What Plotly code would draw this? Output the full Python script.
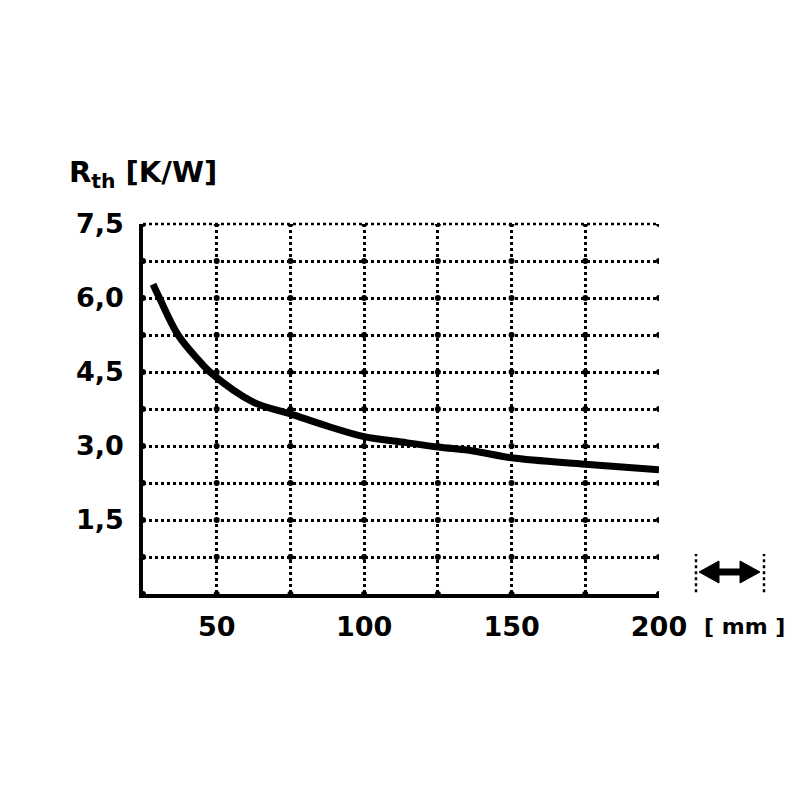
import numpy as np
import plotly.graph_objects as go

# data
length_mm = [28.4, 30.6, 36.9, 44.3, 47.7, 62.4, 75, 87.7, 100, 112.7, 125, 137, 150, 175, 200]
rth_kw = [6.28, 6.00, 5.25, 4.71, 4.50, 3.89, 3.65, 3.40, 3.19, 3.08, 2.98, 2.90, 2.76, 2.63, 2.52]

x_ticks = [50, 100, 150, 200]
x_labels = ["50", "100", "150", "200"]
x_grid = [25, 50, 75, 100, 125, 150, 175, 200]
y_ticks = [1.5, 3.0, 4.5, 6.0, 7.5]
y_labels = ["1,5", "3,0", "4,5", "6,0", "7,5"]
y_grid = [0, 0.75, 1.5, 2.25, 3.0, 3.75, 4.5, 5.25, 6.0, 6.75, 7.5]

FONT = "DejaVu Sans"
GRID = dict(showgrid=True, gridcolor="black", gridwidth=2.5, griddash="dot")

fig = go.Figure()

# grid intersection dots
gx, gy = np.meshgrid(x_grid, y_grid)
fig.add_trace(go.Scatter(
    x=gx.ravel(), y=gy.ravel(), mode="markers",
    marker=dict(color="black", size=6), hoverinfo="skip", showlegend=False,
))

fig.add_trace(go.Scatter(
    x=length_mm, y=rth_kw, mode="lines",
    line=dict(color="black", width=7, shape="spline", smoothing=1.0),
    showlegend=False,
))

arrow_path = ("M 1.0775 0.0595 L 1.1163 0.0892 L 1.1163 0.0676 L 1.1570 0.0676 "
              "L 1.1570 0.0892 L 1.1957 0.0595 L 1.1570 0.0297 L 1.1570 0.0514 "
              "L 1.1163 0.0514 L 1.1163 0.0297 Z")

fig.update_layout(
    width=800, height=800,
    margin=dict(l=135, r=149, t=216, b=214),
    paper_bgcolor="white", plot_bgcolor="white",
    font=dict(family=FONT, size=27, color="black", weight="bold"),
    xaxis=dict(
        range=[25, 200], tickvals=x_ticks, ticktext=x_labels,
        minor=dict(tickvals=x_grid, **GRID), **GRID,
        showline=True, linecolor="black", linewidth=3.5,
        ticks="", ticklabelstandoff=6, zeroline=False,
    ),
    yaxis=dict(
        range=[0, 7.5], tickvals=y_ticks, ticktext=y_labels,
        minor=dict(tickvals=y_grid, **GRID), **GRID,
        showline=True, linecolor="black", linewidth=3.5,
        ticks="", ticklabelstandoff=10, zeroline=False,
    ),
    annotations=[
        dict(text="R<sub>th</sub> [K/W]", xref="paper", yref="paper",
             x=-0.148, y=1.135, xanchor="left", yanchor="middle",
             showarrow=False, font=dict(size=29)),
        dict(text="[ mm ]", xref="paper", yref="paper",
             x=1.083, y=-0.0865, xanchor="left", yanchor="middle",
             showarrow=False, font=dict(size=22)),
    ],
    shapes=[
        dict(type="line", xref="paper", yref="paper", x0=0, x1=1,
             y0=1, y1=1, line=dict(color="black", width=2.5, dash="dot")),
        dict(type="line", xref="paper", yref="paper", x0=1.0717, x1=1.0717,
             y0=0.005, y1=0.108, line=dict(color="black", width=2.5, dash="dot")),
        dict(type="line", xref="paper", yref="paper", x0=1.2035, x1=1.2035,
             y0=0.005, y1=0.108, line=dict(color="black", width=2.5, dash="dot")),
        dict(type="path", xref="paper", yref="paper", path=arrow_path,
             fillcolor="black", line=dict(color="black", width=1)),
    ],
)

fig.write_html("out.html")
